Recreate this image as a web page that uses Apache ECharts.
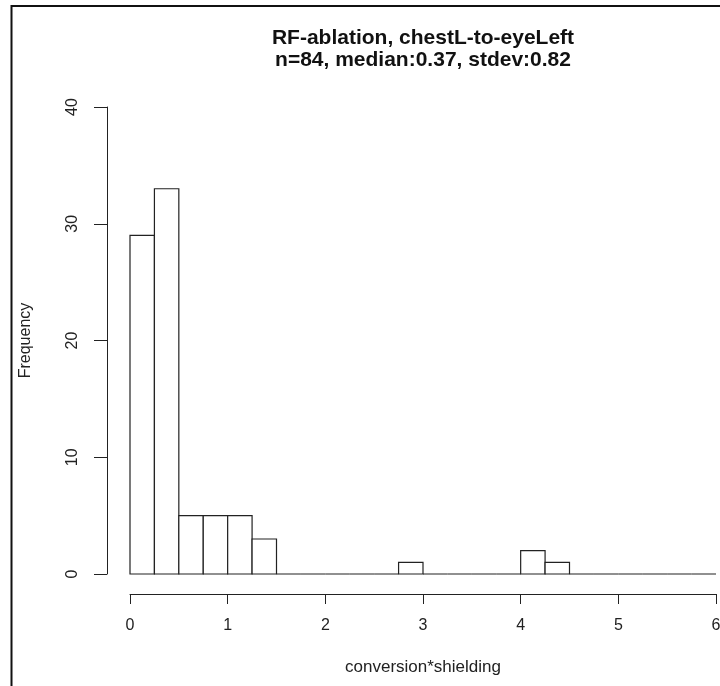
<!DOCTYPE html>
<html>
<head>
<meta charset="utf-8">
<script src="https://cdn.jsdelivr.net/npm/echarts@6/dist/echarts.min.js"></script>
<style>
  html, body { margin: 0; padding: 0; background: #fff; }
  #chart { width: 720px; height: 686px; }
</style>
</head>
<body>
<div id="chart"></div>
<script>
// histogram breaks (bin edges) and counts per bin
const breaks = [0, 0.25, 0.5, 0.75, 1, 1.25, 1.5, 1.75, 2, 2.25, 2.5, 2.75, 3,
  3.25, 3.5, 3.75, 4, 4.25, 4.5, 4.75, 5, 5.25, 5.5, 5.75, 6]
const counts = [29, 33, 5, 5, 5, 3, 0, 0, 0, 0, 0, 1, 0, 0, 0, 0, 2, 1, 0, 0, 0, 0, 0, 0]
const xTicks = [0, 1, 2, 3, 4, 5, 6]
const yTicks = [0, 10, 20, 30, 40]

const titleText = 'RF-ablation, chestL-to-eyeLeft\nn=84, median:0.37, stdev:0.82'

// [start, end, count] for each bin
const bins = counts.map((c, i) => [breaks[i], breaks[i + 1], c])

const font = 'Liberation Sans, Arial, sans-serif'
const ink = '#222'

const chart = echarts.init(document.getElementById('chart'))
chart.setOption({
  animation: false,
  backgroundColor: '#fff',
  title: {
    text: titleText,
    left: 423,
    top: 27,
    padding: 0,
    textAlign: 'center',
    textStyle: {fontFamily: font, fontSize: 21, fontWeight: 'bold', color: '#111', lineHeight: 22}
  },
  graphic: [{
    // outer frame (left and top edges visible)
    type: 'rect',
    shape: {x: 11.5, y: 6, width: 1000, height: 1000},
    style: {fill: 'none', stroke: '#111', lineWidth: 2},
    silent: true
  }],
  grid: {left: 130, right: 4, top: 107, bottom: 112, outerBoundsMode: 'none'},
  xAxis: {
    type: 'value',
    min: xTicks[0],
    max: xTicks[xTicks.length - 1],
    interval: 1,
    offset: 20,
    name: 'conversion*shielding',
    nameLocation: 'middle',
    nameGap: 65,
    nameTextStyle: {fontFamily: font, fontSize: 17, color: ink},
    axisLine: {show: true, onZero: false, lineStyle: {color: ink, width: 1}},
    axisTick: {show: true, length: 10, lineStyle: {color: ink}},
    axisLabel: {margin: 24, fontFamily: font, fontSize: 16, color: ink},
    splitLine: {show: false}
  },
  yAxis: {
    type: 'value',
    min: yTicks[0],
    max: yTicks[yTicks.length - 1],
    interval: 10,
    offset: 23,
    name: 'Frequency',
    nameLocation: 'middle',
    nameGap: 73,
    nameTextStyle: {fontFamily: font, fontSize: 16, color: ink},
    axisLine: {show: true, onZero: false, lineStyle: {color: ink, width: 1}},
    axisTick: {show: true, length: 13, lineStyle: {color: ink}},
    axisLabel: {rotate: 90, margin: 26, fontFamily: font, fontSize: 16, color: ink},
    splitLine: {show: false}
  },
  series: [{
    type: 'custom',
    data: bins,
    encode: {x: [0, 1], y: 2},
    renderItem: (params, api) => {
      const p0 = api.coord([api.value(0), api.value(2)])
      const p1 = api.coord([api.value(1), 0])
      return {
        type: 'rect',
        shape: {x: p0[0], y: p0[1], width: p1[0] - p0[0], height: p1[1] - p0[1]},
        style: {fill: '#fff', stroke: ink, lineWidth: 1.2}
      }
    }
  }]
})
</script>
</body>
</html>
